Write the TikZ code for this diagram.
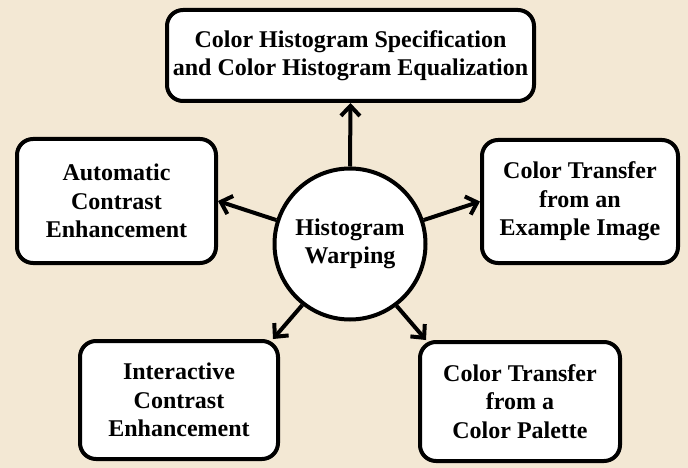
\documentclass[tikz,border=0pt]{standalone}
\usepackage{fontspec}
\setmainfont{Liberation Serif}
\definecolor{warpbg}{RGB}{243, 232, 212}
\usetikzlibrary{arrows.meta}

\begin{document}
\begin{tikzpicture}[x=1pt, y=-1pt,
    topicbox/.style={draw, line width=4pt, fill=white, rounded corners=16pt,
        align=center, inner sep=0pt, font=\bfseries\fontsize{24}{28.5}\selectfont},
    warparrow/.style={-{Straight Barb[length=10pt, width=19pt]}, line width=4pt}]
    % Background
    \fill[warpbg] (0,0) rectangle (688,468);
    \useasboundingbox (0,0) rectangle (688,468);

    % Centre
    \node[circle, draw, line width=4pt, fill=white, inner sep=0pt, minimum size=151pt,
        align=center, font=\bfseries\fontsize{24}{27.5}\selectfont] (warp) at (350,244)
        {Histogram\\Warping};

    % Applications
    \node[topicbox, minimum width=367pt, minimum height=91pt] (spec) at (350.5,55.5)
        {Color Histogram Specification\\and Color Histogram Equalization};
    \node[topicbox, minimum width=199pt, minimum height=124pt] (auto) at (116.5,201)
        {Automatic\\Contrast\\Enhancement};
    \node[topicbox, minimum width=196pt, minimum height=123pt] (example) at (580,201.5)
        {Color Transfer\\from an\\Example Image};
    \node[topicbox, minimum width=198pt, minimum height=118pt] (inter) at (179,400)
        {Interactive\\Contrast\\Enhancement};
    \node[topicbox, minimum width=200pt, minimum height=119pt] (palette) at (520,401.5)
        {Color Transfer\\from a\\Color Palette};

    % Arrows
    \draw[warparrow] (warp.north) -- (spec.south);
    \draw[warparrow] (warp.162) -- (auto.east);
    \draw[warparrow] (warp.18) -- (example.west);
    \draw[warparrow] (warp.232) -- ([xshift=-7pt]inter.north east);
    \draw[warparrow] (warp.307) -- ([xshift=8pt]palette.north west);
\end{tikzpicture}
\end{document}
